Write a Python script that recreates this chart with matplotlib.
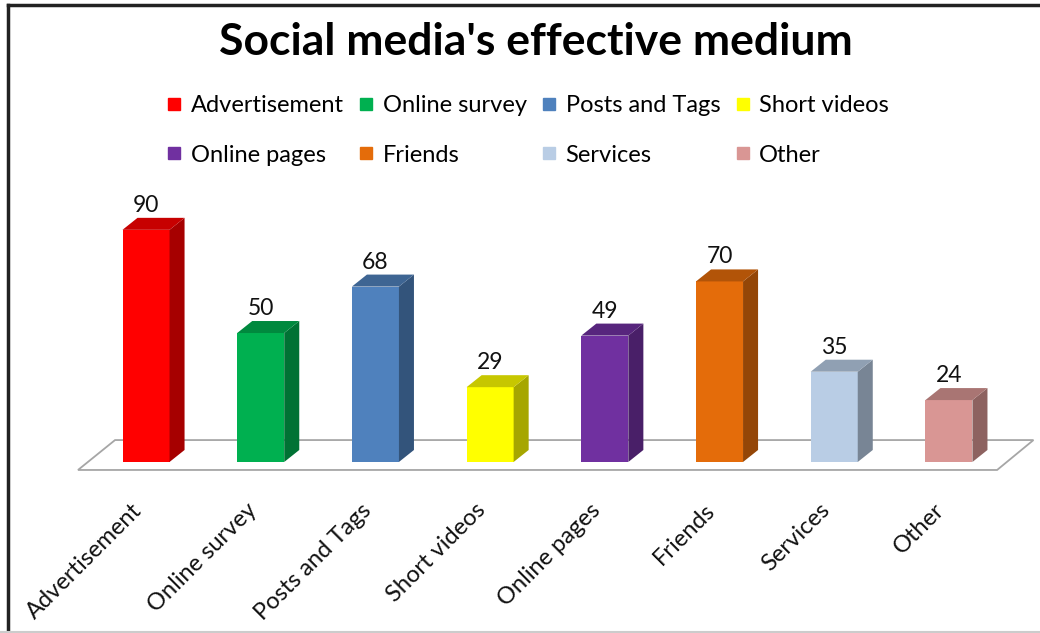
import matplotlib.pyplot as plt
from matplotlib.patches import Polygon
from matplotlib.lines import Line2D
import matplotlib.colors as mcolors

plt.rcParams['font.family'] = ['Lato', 'DejaVu Sans']

categories = ["Advertisement", "Online survey", "Posts and Tags", "Short videos",
              "Online pages", "Friends", "Services", "Other"]
values = [90, 50, 68, 29, 49, 70, 35, 24]
colors = ["#FF0000", "#00B050", "#4F81BD", "#FFFF00",
          "#7030A0", "#E46C0A", "#B9CDE5", "#D99694"]

def shade(c, f):
    r, g, b = mcolors.to_rgb(c)
    return (r * f, g * f, b * f)

fig = plt.figure(figsize=(10.4, 6.33), dpi=100)
ax = fig.add_axes([0, 0, 1, 1])
ax.set_xlim(-1.273, 7.794)
ax.set_ylim(-66.3, 179.1)
ax.axis('off')

# depth of the fake 3d look, in data units
dx, dy = 0.131, 4.65
w = 0.41

# floor
n = len(categories)
floor = Polygon([(-0.593, -3.1), (n - 1 + 0.42, -3.1),
                 (n - 1 + 0.737, 8.5), (-0.27, 8.5)],
                closed=True, facecolor="white", edgecolor="#A6A6A6", lw=1.3, zorder=1)
ax.add_patch(floor)

for i, (v, c) in enumerate(zip(values, colors)):
    x0, x1 = i - w / 2, i + w / 2
    front = Polygon([(x0, 0), (x1, 0), (x1, v), (x0, v)], facecolor=c, edgecolor='none', zorder=3)
    side = Polygon([(x1, 0), (x1 + dx, dy), (x1 + dx, v + dy), (x1, v)],
                   facecolor=shade(c, 0.65), edgecolor='none', zorder=3)
    top = Polygon([(x0, v), (x1, v), (x1 + dx, v + dy), (x0 + dx, v + dy)],
                  facecolor=shade(c, 0.78), edgecolor='none', zorder=3)
    for p in (front, side, top):
        ax.add_patch(p)
    ax.text(i, v + dy + 2.3, str(v), ha='center', va='baseline', fontsize=16.5, color='#111111')
    ax.text(i - 0.13, -14.5, categories[i], rotation=45, rotation_mode='anchor',
            ha='right', va='top', fontsize=17, color='#111111')

# legend filled row by row, 4 per row
order = [0, 4, 1, 5, 2, 6, 3, 7]
handles = [Line2D([], [], ls='none', marker='s', markersize=9, color=colors[k]) for k in order]
labels = [categories[k] for k in order]
fig.legend(handles, labels, ncol=4, loc='center left', bbox_to_anchor=(167 / 1040, 0.794),
           frameon=False, fontsize=17, labelspacing=1.2, columnspacing=0.65,
           handlelength=0.6, handletextpad=0.4, borderpad=0, borderaxespad=0)

fig.text(0.515, 0.913, "Social media's effective medium", ha='center', va='baseline',
         fontsize=32, fontweight='bold')

# frame lines around the chart area
fig.add_artist(Line2D([0.0075, 1], [0.9925, 0.9925], color='#222222', lw=2.5))
fig.add_artist(Line2D([0.0075, 0.0075], [0, 0.9925], color='#222222', lw=2.5))
fig.add_artist(Line2D([0, 1], [0.002, 0.002], color='#CCCCCC', lw=1.5))

fig.savefig("out.png", dpi=100)
